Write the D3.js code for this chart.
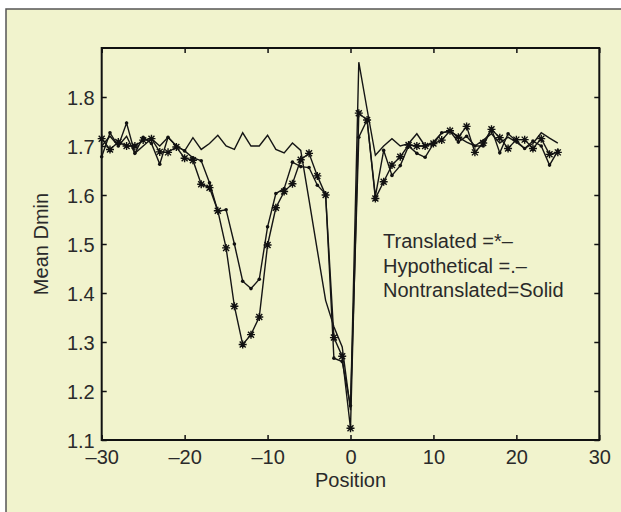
<!DOCTYPE html>
<html>
<head>
<meta charset="utf-8">
<script src="https://cdn.jsdelivr.net/npm/d3@7"></script>
<style>
  html, body { margin: 0; padding: 0; background: #ffffff; }
  svg { display: block; }
  text { font-family: "Liberation Sans", Arial, Helvetica, sans-serif; fill: #2a2a2a; }
</style>
</head>
<body>
<svg id="chart" width="621" height="512"></svg>
<script>
// ---- data ----
const positions = d3.range(-30, 26);
const translated = [
  1.715, 1.693, 1.708, 1.700, 1.700, 1.712, 1.715, 1.688, 1.687, 1.698,
  1.675, 1.671, 1.622, 1.615, 1.568, 1.492, 1.373, 1.295, 1.315, 1.351,
  1.498, 1.574, 1.607, 1.623, 1.672, 1.685, 1.639, 1.600, 1.309, 1.271,
  1.124, 1.767, 1.753, 1.593, 1.627, 1.661, 1.678, 1.702, 1.700, 1.700,
  1.705, 1.712, 1.731, 1.718, 1.740, 1.687, 1.706, 1.734, 1.717, 1.695,
  1.713, 1.713, 1.695, 1.715, 1.683, 1.687
];
const hypothetical = [
  1.678, 1.727, 1.700, 1.747, 1.685, 1.718, 1.705, 1.663, 1.718, 1.700,
  1.690, 1.676, 1.670, 1.625, 1.567, 1.570, 1.500, 1.424, 1.409, 1.428,
  1.535, 1.603, 1.613, 1.667, 1.658, 1.656, 1.620, 1.602, 1.267, 1.260,
  1.170, 1.718, 1.753, 1.597, 1.691, 1.640, 1.660, 1.700, 1.685, 1.677,
  1.705, 1.727, 1.730, 1.708, 1.720, 1.700, 1.700, 1.735, 1.686, 1.725,
  1.710, 1.695, 1.710, 1.700, 1.661, 1.690
];
const nontranslated = [
  1.700, 1.720, 1.700, 1.720, 1.685, 1.700, 1.715, 1.700, 1.718, 1.700,
  1.690, 1.717, 1.693, 1.705, 1.722, 1.700, 1.693, 1.727, 1.700, 1.700,
  1.722, 1.693, 1.686, 1.706, 1.691, 1.590, 1.487, 1.385, 1.331, 1.290,
  1.161, 1.871, 1.775, 1.681, 1.700, 1.715, 1.700, 1.705, 1.725, 1.700,
  1.708, 1.727, 1.731, 1.718, 1.708, 1.700, 1.712, 1.725, 1.706, 1.718,
  1.708, 1.695, 1.705, 1.727, 1.716, 1.706
];
const xTicks = [-30, -20, -10, 0, 10, 20, 30];
const yTicks = [1.1, 1.2, 1.3, 1.4, 1.5, 1.6, 1.7, 1.8];
const legendLines = ["Translated =*\u2013", "Hypothetical =.\u2013", "Nontranslated=Solid"];
const xTitle = "Position";
const yTitle = "Mean Dmin";

// ---- layout ----
const svg = d3.select("#chart");
const L = 101.7, R = 599.3, T = 48, B = 440;
const x = d3.scaleLinear().domain([-30, 30]).range([L, R]);
const y = d3.scaleLinear().domain([1.1, 1.9]).range([B, T]);

// panel background
svg.append("rect").attr("x", 6).attr("y", 9).attr("width", 640).attr("height", 520)
  .attr("fill", "#f1f3cd").attr("stroke", "#555").attr("stroke-width", 1.5);

const fmtX = d => (d < 0 ? "\u2013" + Math.abs(d) : String(d));

// axes with inward ticks
const tickLen = 5;
const gx = svg.append("g").attr("transform", `translate(0,${B})`)
  .call(d3.axisBottom(x).tickValues(xTicks).tickSize(-tickLen).tickPadding(0).tickFormat(fmtX));
gx.selectAll("text").attr("y", 24).attr("dy", 0);
const gxt = svg.append("g").attr("transform", `translate(0,${T})`)
  .call(d3.axisTop(x).tickValues(xTicks).tickSize(-tickLen).tickFormat(""));
const gy = svg.append("g").attr("transform", `translate(${L},0)`)
  .call(d3.axisLeft(y).tickValues(yTicks).tickSize(-tickLen).tickPadding(0).tickFormat(d3.format(".1f")));
gy.selectAll("text").attr("x", -7).attr("dy", "0.36em");
const gyr = svg.append("g").attr("transform", `translate(${R},0)`)
  .call(d3.axisRight(y).tickValues(yTicks).tickSize(-tickLen).tickFormat(""));

[gx, gxt, gy, gyr].forEach(g => {
  g.select(".domain").remove();
  g.selectAll("line").attr("stroke", "#111").attr("stroke-width", 1.5);
  g.selectAll("text").style("font-size", "20px").attr("fill", "#2a2a2a")
    .style("font-family", "'Liberation Sans', Arial, sans-serif");
});

// frame
svg.append("rect").attr("x", L).attr("y", T).attr("width", R - L).attr("height", B - T)
  .attr("fill", "none").attr("stroke", "#111").attr("stroke-width", 2);

// lines
const mk = arr => positions.map((p, i) => [p, arr[i]]);
const line = d3.line().x(d => x(d[0])).y(d => y(d[1]));
const seriesList = [
  { data: mk(nontranslated), marker: "none" },
  { data: mk(hypothetical), marker: "dot" },
  { data: mk(translated), marker: "star" }
];
seriesList.forEach(s => {
  svg.append("path").datum(s.data).attr("d", line)
    .attr("fill", "none").attr("stroke", "#151515").attr("stroke-width", 1.4)
    .attr("stroke-linejoin", "miter");
  if (s.marker === "dot") {
    svg.append("g").selectAll("circle").data(s.data).join("circle")
      .attr("cx", d => x(d[0])).attr("cy", d => y(d[1])).attr("r", 1.8).attr("fill", "#111");
  } else if (s.marker === "star") {
    const h = 4, dg = 3;
    const starPath = `M${-h},0L${h},0M0,${-h}L0,${h}M${-dg},${-dg}L${dg},${dg}M${-dg},${dg}L${dg},${-dg}`;
    svg.append("g").selectAll("path").data(s.data).join("path")
      .attr("transform", d => `translate(${x(d[0])},${y(d[1])})`)
      .attr("d", starPath).attr("stroke", "#111").attr("stroke-width", 1.4).attr("fill", "none");
  }
});

// legend text
svg.append("g").selectAll("text").data(legendLines).join("text")
  .attr("x", 383).attr("y", (d, i) => 247.7 + i * 24.8)
  .style("font-size", "20px").text(d => d);

// titles
svg.append("text").attr("x", (L + R) / 2).attr("y", 487).attr("text-anchor", "middle")
  .style("font-size", "20px").text(xTitle);
svg.append("text").attr("transform", `translate(48,${(T + B) / 2}) rotate(-90)`)
  .attr("text-anchor", "middle").style("font-size", "20px").text(yTitle);
</script>
</body>
</html>
